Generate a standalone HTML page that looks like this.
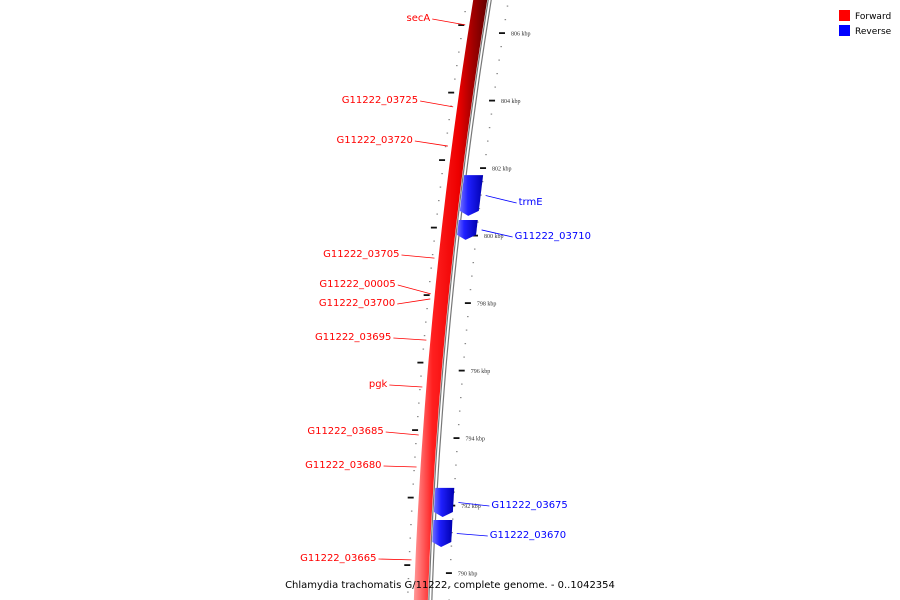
<!DOCTYPE html>
<html><head><meta charset="utf-8"><style>
html,body{margin:0;padding:0;background:#fff;}
svg{display:block;font-family:"DejaVu Sans","Liberation Sans",sans-serif;}
</style></head><body>
<svg id="map" width="900" height="600" viewBox="0 0 900 600" xmlns="http://www.w3.org/2000/svg">
<defs>
<linearGradient id="redGrad" x1="0" x2="1" y1="0" y2="0">
<stop offset="0" stop-color="#ff9a9a"/><stop offset="0.25" stop-color="#ff2020"/><stop offset="0.6" stop-color="#ee0000"/><stop offset="0.8" stop-color="#a00000"/><stop offset="1" stop-color="#600000"/>
</linearGradient>
<linearGradient id="blueGrad" x1="0" x2="1" y1="0" y2="0">
<stop offset="0" stop-color="#7070ff"/><stop offset="0.35" stop-color="#2020ff"/><stop offset="1" stop-color="#0000b0"/>
</linearGradient>
</defs>
<g id="ring"></g>
<g id="ticks"></g>
<g id="feats"></g>
<g id="labels"></g>
<g>
<rect x="839" y="10" width="11" height="11" fill="#ff0000"/>
<text x="855" y="19" font-size="9" fill="#000">Forward</text>
<rect x="839" y="25" width="11" height="11" fill="#0000ff"/>
<text x="855" y="34" font-size="9" fill="#000">Reverse</text>
</g>
<text x="450" y="588" font-size="10" text-anchor="middle" fill="#000">Chlamydia trachomatis G/11222, complete genome. - 0..1042354</text>
</svg>
<script>
const majorTicks = [806, 804, 802, 800, 798, 796, 794, 792, 790];
const majorLabels = ["806 kbp","804 kbp","802 kbp","800 kbp","798 kbp","796 kbp","794 kbp","792 kbp","790 kbp"];
const fwdNames = ["secA","G11222_03725","G11222_03720","G11222_03705","G11222_00005","G11222_03700","G11222_03695","pgk","G11222_03685","G11222_03680","G11222_03665"];
const fwdKbp = [806.24,803.81,802.65,799.33,798.27,798.12,796.90,795.51,794.09,793.14,790.39];
const fwdLabelY = [17,99,139,253,283,302,336,383,430,464,557];
const revNames = ["trmE","G11222_03710","G11222_03675","G11222_03670"];
const revStart = [801.82,800.49,792.55,791.60];
const revEnd = [800.55,799.84,791.63,790.74];
const revLabelY = [201,235,504,534];

const NS="http://www.w3.org/2000/svg";
function yOf(k){return 33+(806-k)*33.75;}
function kOf(y){return 806-(y-33)/33.75;}
function xOf(y,off){return 510.2-0.1613*y+1.04e-4*y*y+off;}
function mk(tag,attrs,parent){const e=document.createElementNS(NS,tag);for(const a in attrs)e.setAttribute(a,attrs[a]);parent.appendChild(e);return e;}
function band(o1,o2,y1,y2){let p=[];const n=40;for(let i=0;i<=n;i++){const y=y1+(y2-y1)*i/n;p.push(xOf(y,o1).toFixed(1)+","+y.toFixed(1));}for(let i=n;i>=0;i--){const y=y1+(y2-y1)*i/n;p.push(xOf(y,o2).toFixed(1)+","+y.toFixed(1));}return p.join(" ");}
function line(off,y1,y2){let p=[];for(let i=0;i<=40;i++){const y=y1+(y2-y1)*i/40;p.push(xOf(y,off).toFixed(1)+","+y.toFixed(1));}return p.join(" ");}

const ring=document.getElementById('ring');
let r=mk('polygon',{points:band(-37,-23,-5,605),fill:'url(#redGrad)'},ring);


[-22,-19].forEach(o=>{const l=mk('polyline',{points:line(o,-5,605),fill:'none',stroke:'#777','stroke-width':1.2},ring);

});

const ticks=document.getElementById('ticks');
// minor ticks every 0.4 kbp
for(let k=808;k>=788;k=Math.round((k-0.4)*10)/10){
  const y=yOf(k);if(y<-5||y>605)continue;
  const isMajor=Math.abs(k-Math.round(k))<1e-6 && Math.round(k)%2===0;
  if(isMajor)continue;
  let d=mk('rect',{x:xOf(y,-2.5),y:y-0.5,width:1.5,height:1.2,fill:'#888'},ticks);
  
  
  const yi=y-8;
  let d2=mk('rect',{x:xOf(yi,-44),y:yi-0.5,width:1.5,height:1.2,fill:'#888'},ticks);
  
  
}
majorTicks.forEach((k,i)=>{
  const y=yOf(k);
  let t=mk('rect',{x:xOf(y,-6),y:y-0.8,width:6,height:1.8,fill:'#111'},ticks);
  
  
  let tx=mk('text',{x:xOf(y,6),y:y+2.5,'font-size':6,fill:'#333','font-family':'Liberation Serif, serif'},ticks);
  tx.textContent=majorLabels[i];
  
  
  const yi=y-8;
  let t2=mk('rect',{x:xOf(yi,-48),y:yi-0.8,width:6,height:1.8,fill:'#111'},ticks);
  
  
});

const feats=document.getElementById('feats');
const labels=document.getElementById('labels');
revNames.forEach((n,i)=>{
  const y1=yOf(revStart[i])+1,y2=yOf(revEnd[i])-1;
  const pts=[];const N=10;
  for(let j=0;j<=N;j++){const y=y1+(y2-y1-5)*j/N;pts.push(xOf(y,-21).toFixed(1)+","+y.toFixed(1));}
  pts.push(xOf(y2,-12).toFixed(1)+","+y2.toFixed(1));
  for(let j=N;j>=0;j--){const y=y1+(y2-y1-5)*j/N;pts.push(xOf(y,-2).toFixed(1)+","+y.toFixed(1));}
  let f=mk('polygon',{points:pts.join(" "),fill:'url(#blueGrad)'},feats);
  
  
  const ym=(y1+y2)/2, ly=revLabelY[i];
  const ax=xOf(ym,3);
  let l=mk('line',{x1:ax,y1:ym,x2:ax+31,y2:ly+2,stroke:'#0000ff','stroke-width':0.8},labels);
  
  
  let t=mk('text',{x:ax+33,y:ly+4,'font-size':10,fill:'#0000ff'},labels);
  t.textContent=n;
  
  
});
fwdNames.forEach((n,i)=>{
  const y=yOf(fwdKbp[i]);const ax=xOf(y,-41);const ly=fwdLabelY[i];
  let l=mk('line',{x1:ax,y1:y,x2:ax-33,y2:ly+2,stroke:'#ff0000','stroke-width':0.8},labels);
  
  
  let t=mk('text',{x:ax-35,y:ly+4,'font-size':10,fill:'#ff0000','text-anchor':'end'},labels);
  t.textContent=n;
  
  
});
</script>
</body></html>
